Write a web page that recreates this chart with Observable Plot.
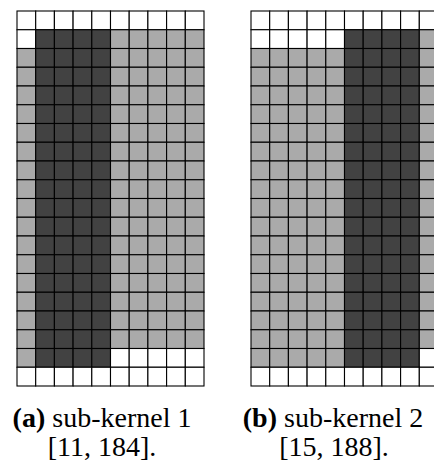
<!DOCTYPE html>
<html>
<head>
<meta charset="utf-8">
<script src="https://cdn.jsdelivr.net/npm/d3@7"></script>
<script src="https://cdn.jsdelivr.net/npm/@observablehq/plot@0.6"></script>
<style>
  html, body { margin: 0; padding: 0; background: #fff; width: 434px; height: 468px; overflow: hidden; }
  #wrap { position: relative; width: 434px; height: 468px; overflow: hidden; }
  .panel { position: absolute; top: 0; max-width: none !important; }
  #captions { position: absolute; left: 0; top: 0; }
</style>
</head>
<body>
<div id="wrap"></div>
<script>
// 0 = empty (white), 1 = light grey, 2 = dark grey
const kernel1Rows = [
  "0000000000",
  "0222211111",
  "1222211111",
  "1222211111",
  "1222211111",
  "1222211111",
  "1222211111",
  "1222211111",
  "1222211111",
  "1222211111",
  "1222211111",
  "1222211111",
  "1222211111",
  "1222211111",
  "1222211111",
  "1222211111",
  "1222211111",
  "1222211111",
  "1222200000",
  "0000000000"
];
const kernel2Rows = [
  "0000000000",
  "0000022221",
  "1111122221",
  "1111122221",
  "1111122221",
  "1111122221",
  "1111122221",
  "1111122221",
  "1111122221",
  "1111122221",
  "1111122221",
  "1111122221",
  "1111122221",
  "1111122221",
  "1111122221",
  "1111122221",
  "1111122221",
  "1111122221",
  "1111122220",
  "0000000000"
];
const stateColors = ["#ffffff", "#aaaaaa", "#424242"];
const captionLabels = ["(a)", "(b)"];
const captionTexts = [" sub-kernel 1", " sub-kernel 2"];
const captionRanges = ["[11, 184].", "[15, 188]."];

function toCells(rows) {
  const out = [];
  rows.forEach((r, i) => r.split("").forEach((c, j) => out.push({row: i, col: j, v: +c})));
  return out;
}

function grid(rows) {
  const cells = toCells(rows);
  return Plot.plot({
    width: 217, height: 390,
    marginLeft: 17, marginRight: 13, marginTop: 11, marginBottom: 4,
    x: {type: "band", domain: d3.range(rows[0].length), padding: 0, round: false, axis: null},
    y: {type: "band", domain: d3.range(rows.length), padding: 0, round: false, axis: null},
    color: {type: "ordinal", domain: [0, 1, 2], range: stateColors},
    marks: [
      Plot.cell(cells, {x: "col", y: "row", fill: "v", stroke: "#000", strokeWidth: 1.1, inset: 0})
    ]
  });
}

const wrap = document.getElementById("wrap");
[[kernel1Rows, 0], [kernel2Rows, 234]].forEach(([rows, left]) => {
  const p = grid(rows);
  p.classList.add("panel");
  p.style.left = left + "px";
  p.style.overflow = "visible";
  wrap.appendChild(p);
});

// captions
const svg = d3.create("svg").attr("id", "captions").attr("width", 434).attr("height", 468)
  .style("font-family", "'Liberation Serif', 'Times New Roman', serif").style("font-size", "28px");
const centers1 = [102, 333];
const centers2 = [102, 334];
captionLabels.forEach((lab, i) => {
  const t = svg.append("text").attr("x", centers1[i]).attr("y", 427).attr("text-anchor", "middle").attr("fill", "#000");
  t.append("tspan").attr("font-weight", "bold").text(lab);
  t.append("tspan").attr("xml:space", "preserve").style("white-space", "pre").text(captionTexts[i]);
  svg.append("text").attr("x", centers2[i]).attr("y", 456).attr("text-anchor", "middle").attr("fill", "#000").text(captionRanges[i]);
});
wrap.appendChild(svg.node());
</script>
</body>
</html>
